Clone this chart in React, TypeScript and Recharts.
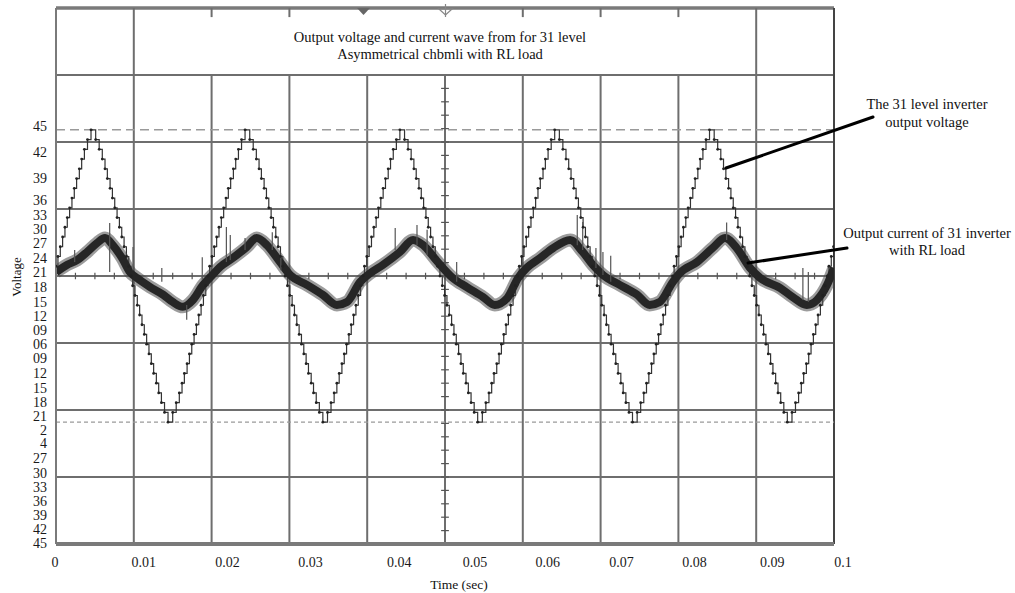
import React from 'react';
import { LineChart, Line, XAxis, YAxis, ReferenceLine } from 'recharts';

const serif = "'Liberation Serif', 'Times New Roman', serif";

// time axis (seconds)
const xTickValues = [0, 0.01, 0.02, 0.03, 0.04, 0.05, 0.06, 0.07, 0.08, 0.09, 0.1];
const xTickLabels = ['0', '0.01', '0.02', '0.03', '0.04', '0.05', '0.06', '0.07', '0.08', '0.09', '0.1'];
// the scanned labels drift off their grid lines a little
const xLabelShift = [-1, 10, 16, 21, 32, 30, 25, 21, 16, 16, 9];

// y tick labels exactly as printed (position in volts)
const yTickValues = [
  46.2, 38.2, 30.2, 23.4, 18.8, 14.5, 10.2, 5.5, 1.2, -3.4, -8.0, -12.3, -16.6, -20.9,
  -25.2, -29.9, -34.5, -38.8, -43.1, -47.4, -51.4, -56.0, -60.7, -65.0, -69.3, -73.6, -77.9, -82.2,
];
const yTickLabels = [
  '45', '42', '39', '36', '33', '30', '27', '24', '21', '18', '15', '12', '09', '06',
  '09', '12', '15', '18', '21', '2', '4', '27', '30', '33', '36', '39', '42', '45',
];

// scope graticule
const hGrid = [-61.875, -41.25, -20.625, 0, 20.625, 41.25, 61.875];
const bandBottom = 61.875;

// 31 level staircase: 3 V per level
const stepLevels = [3, 6, 9, 12, 15, 18, 21, 24, 27, 30, 33, 36, 39, 42, 45];
// ms after the zero crossing at which each level switches on
const stepOnsetMs = [0.15, 0.45, 0.75, 1.05, 1.35, 1.65, 1.95, 2.25, 2.55, 2.85, 3.2, 3.5, 3.85, 4.25, 4.7];
const peakMs = [4.8, 24.6, 44.5, 64.4, 84.3, 104.2];
const troughMs = [14.7, 34.6, 54.5, 74.4, 94.3];

// load current (centre of the noisy trace)
const currentMs = [
  0, 1.4, 2.7, 4.0, 5.3, 6.3, 7.3, 8.5, 9.5, 10.4, 12.1, 13.8, 15.0, 16.3, 17.6, 18.9,
  20.1, 21.1, 22.7, 24.5, 25.8, 27.1, 28.8, 30.1, 32.3, 34.3, 36.1, 37.4, 39.1,
  40.4, 42.0, 44.2, 45.9, 47.2, 49.0, 51.0, 52.8, 54.9, 56.4, 58.0, 59.4,
  60.5, 62.2, 63.9, 66.1, 67.7, 69.0, 70.3, 72.5, 74.7, 76.3, 77.6, 79.3,
  80.2, 82.4, 84.4, 86.0, 87.5, 89.2, 90.5, 93.1, 94.7, 96.5, 97.8, 99.1, 100,
];
const currentValues = [
  1.2, 3.4, 4.9, 7.4, 10.2, 11.7, 9.5, 5.5, 1.2, -0.6, -3.4, -5.8, -8.0, -9.5, -7.4, -2.8,
  0.3, 2.8, 5.5, 8.9, 11.7, 9.5, 4.3, 0.3, -2.8, -5.8, -8.9, -8.0, -1.8,
  0.9, 3.4, 7.4, 11.1, 9.5, 4.5, -0.6, -3.4, -6.5, -8.9, -6.8, -0.6,
  2.5, 5.5, 8.6, 11.1, 7.4, 3.4, 0.3, -2.8, -5.8, -8.9, -8.0, -1.8,
  0.9, 4.3, 8.6, 11.7, 8.6, 2.5, -0.6, -3.7, -6.5, -8.9, -7.4, -2.8, 2.5,
];

// switching spikes on the current trace
const spikeMs = [2.4, 6.9, 9.9, 13.6, 16.8, 18.8, 21.9, 22.4, 24.3, 27.8, 28.9, 43.6, 46.4, 47.7, 51.5, 67.0, 67.7, 69.4, 70.3, 71.3, 86.2, 96.0, 96.7];
const spikeTop = [8.0, 16.3, 8.9, 2.5, -8.9, 5.8, 15.1, 12.6, 11.7, 13.5, 6.5, 14.8, 15.7, 14.2, 4.3, 18.8, 16.6, 8.6, 7.4, 6.2, 16.5, 2.5, 1.2];
const spikeBottom = [4.3, 1.2, 1.8, -1.8, -13.5, -1.2, 4.3, 4.9, 8.0, 8.0, 1.8, 8.0, 9.5, 6.5, -1.8, 9.5, 8.0, 2.5, 0.3, -1.8, 11.1, -7.4, -8.0];

function buildStairs() {
  const ev: { t: number; v: number }[] = [];
  const lobe = (c: number, sign: number) => {
    stepLevels.forEach((lvl, i) => {
      ev.push({ t: c - 5 + stepOnsetMs[i], v: sign * lvl });
      ev.push({ t: c + 5 - stepOnsetMs[i], v: i === 0 ? 0 : sign * stepLevels[i - 1] });
    });
  };
  peakMs.forEach((c) => lobe(c, 1));
  troughMs.forEach((c) => lobe(c, -1));
  ev.sort((a, b) => a.t - b.t);
  let start = 0;
  ev.forEach((e) => {
    if (e.t <= 0) start = e.v;
  });
  const rows = [{ t: 0, v: start }];
  ev.filter((e) => e.t > 0 && e.t < 100).forEach((e) => rows.push({ t: e.t / 1000, v: e.v }));
  rows.push({ t: 0.1, v: rows[rows.length - 1].v });
  return rows;
}

const voltageRows = buildStairs();
const currentRows = currentMs.map((t, i) => ({ t: t / 1000, v: currentValues[i] }));

const gridColor = '#6e6e6e';

const XTick = (props: any) => {
  const { x, y, payload } = props;
  const i = xTickValues.indexOf(payload.value);
  return (
    <text x={x + (xLabelShift[i] || 0)} y={y} dy="0.71em" textAnchor="middle" fontSize={14} fontFamily={serif} fill="#1a1a1a">
      {xTickLabels[i]}
    </text>
  );
};

const YTick = (props: any) => {
  const { x, y, payload } = props;
  const i = yTickValues.indexOf(payload.value);
  return (
    <text x={x} y={y} dy="0.35em" textAnchor="end" fontSize={14} fontFamily={serif} fill="#1a1a1a">
      {yTickLabels[i]}
    </text>
  );
};

export default function App() {
  const xMinor: number[] = [];
  for (let k = 1; k < 40; k++) xMinor.push(k * 0.0025);
  const yMinor: number[] = [];
  for (let k = -19; k <= 14; k++) if (k !== 0) yMinor.push(k * 4.125);

  return (
    <div style={{ position: 'absolute', left: 0, top: 0, width: 1015, height: 593, background: '#fff' }}>
      <LineChart width={1015} height={593} margin={{ top: 8, right: 181, bottom: 19, left: 0 }}>
        <XAxis
          dataKey="t"
          type="number"
          domain={[0, 0.1]}
          ticks={xTickValues}
          interval={0}
          tick={<XTick />}
          tickLine={false}
          tickSize={0}
          tickMargin={13}
          height={30}
          axisLine={{ stroke: '#7a7a7a', strokeWidth: 4 }}
          allowDataOverflow
        />
        <YAxis
          type="number"
          domain={[-82.5, 82.5]}
          ticks={yTickValues}
          interval={0}
          tick={<YTick />}
          tickLine={false}
          tickSize={0}
          tickMargin={9}
          width={56}
          axisLine={{ stroke: '#7a7a7a', strokeWidth: 2 }}
          allowDataOverflow
        />

        {/* horizontal graticule */}
        {hGrid.map((v) => (
          <ReferenceLine key={'h' + v} y={v} stroke={gridColor} strokeWidth={2} />
        ))}
        <ReferenceLine y={82.5} stroke="#7a7a7a" strokeWidth={3.5} />

        {/* vertical graticule, interrupted by the title box */}
        {xTickValues.slice(1, -1).map((t, i) =>
          t === 0.01 || t === 0.09 ? (
            <ReferenceLine key={'v' + i} x={t} stroke={gridColor} strokeWidth={2} />
          ) : (
            <ReferenceLine
              key={'v' + i}
              segment={[{ x: t, y: -82.5 }, { x: t, y: bandBottom }]}
              stroke={gridColor}
              strokeWidth={2}
            />
          )
        )}
        {[0.02, 0.03, 0.06, 0.07, 0.08].map((t) => (
          <ReferenceLine key={'s' + t} segment={[{ x: t, y: 79.7 }, { x: t, y: 82.5 }]} stroke={gridColor} strokeWidth={2} />
        ))}
        <ReferenceLine x={0.1} stroke="#444" strokeWidth={2} />

        {/* minor ticks on the centre axes */}
        {xMinor.map((t) => (
          <ReferenceLine key={'xm' + t} segment={[{ x: t, y: -1 }, { x: t, y: 1 }]} stroke="#555" strokeWidth={1.2} />
        ))}
        {yMinor.map((v) => (
          <ReferenceLine key={'ym' + v} segment={[{ x: 0.0495, y: v }, { x: 0.0505, y: v }]} stroke="#555" strokeWidth={1.2} />
        ))}

        {/* peak level markers */}
        <ReferenceLine y={45} stroke="#9a9a9a" strokeWidth={1.5} strokeDasharray="9 5" />
        <ReferenceLine y={-45} stroke="#9a9a9a" strokeWidth={1.2} strokeDasharray="4 3" />

        <Line
          data={voltageRows}
          dataKey="v"
          type="stepAfter"
          stroke="#333"
          strokeWidth={1.2}
          dot={{ r: 1.4, fill: '#222', stroke: 'none' }}
          activeDot={false}
          isAnimationActive={false}
        />
        <Line
          data={currentRows}
          dataKey="v"
          type="monotone"
          stroke="#4a4a4a"
          strokeOpacity={0.55}
          strokeWidth={13}
          dot={false}
          activeDot={false}
          isAnimationActive={false}
        />
        <Line
          data={currentRows}
          dataKey="v"
          type="monotone"
          stroke="#262626"
          strokeWidth={8}
          dot={false}
          activeDot={false}
          isAnimationActive={false}
        />
        {spikeMs.map((t, i) => (
          <ReferenceLine
            key={'sp' + i}
            segment={[{ x: t / 1000, y: spikeBottom[i] }, { x: t / 1000, y: spikeTop[i] }]}
            stroke="#555"
            strokeWidth={1.2}
          />
        ))}
      </LineChart>

      <svg
        width={1015}
        height={593}
        style={{ position: 'absolute', left: 0, top: 0, pointerEvents: 'none' }}
        fontFamily={serif}
        fill="#111"
      >
        <text x={440} y={42} textAnchor="middle" fontSize={14.5}>
          Output voltage and current wave from for 31 level
        </text>
        <text x={440} y={59} textAnchor="middle" fontSize={14.5}>
          Asymmetrical chbmli with RL load
        </text>

        <polygon points="357,8 370,8 363.5,15" fill="#666" />
        <polygon points="439,9 452,9 445.5,15" fill="none" stroke="#888" strokeWidth={1.2} />
        <line x1={445.5} y1={4} x2={445.5} y2={17} stroke="#888" strokeWidth={1.2} />

        <text x={927} y={109} textAnchor="middle" fontSize={14.5}>
          The 31 level inverter
        </text>
        <text x={927} y={127} textAnchor="middle" fontSize={14.5}>
          output voltage
        </text>
        <line x1={726} y1={168} x2={873} y2={117} stroke="#000" strokeWidth={3} strokeLinecap="round" />

        <text x={927} y={238} textAnchor="middle" fontSize={14.5}>
          Output current of 31 inverter
        </text>
        <text x={927} y={255} textAnchor="middle" fontSize={14.5}>
          with RL load
        </text>
        <line x1={748} y1={263} x2={847} y2={248} stroke="#000" strokeWidth={3} strokeLinecap="round" />

        <text x={16} y={277} dy="0.35em" textAnchor="middle" fontSize={13} transform="rotate(-90 16 277)">
          Voltage
        </text>
        <text x={459} y={589} textAnchor="middle" fontSize={13.5}>
          Time (sec)
        </text>
      </svg>
    </div>
  );
}
